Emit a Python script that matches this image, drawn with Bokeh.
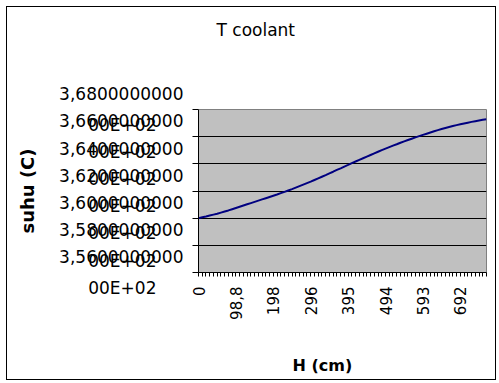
import math
from bokeh.plotting import figure
from bokeh.models import (Range1d, FixedTicker, CustomJSTickFormatter, Title, LinearAxis)
from bokeh.embed import file_html
from bokeh.resources import INLINE

# ---------------- data ----------------
H = [0, 9.88, 19.76, 29.64, 39.52, 49.4, 59.28, 69.16, 79.04, 88.92,
     98.8, 108.68, 118.56, 128.44, 138.32, 148.2, 158.08, 167.96, 177.84, 187.72,
     197.6, 207.48, 217.36, 227.24, 237.12, 247.0, 256.88, 266.76, 276.64, 286.52,
     296.4, 306.28, 316.16, 326.04, 335.92, 345.8, 355.68, 365.56, 375.44, 385.32,
     395.2, 405.08, 414.96, 424.84, 434.72, 444.6, 454.48, 464.36, 474.24, 484.12,
     494.0, 503.88, 513.76, 523.64, 533.52, 543.4, 553.28, 563.16, 573.04, 582.92,
     592.8, 602.68, 612.56, 622.44, 632.32, 642.2, 652.08, 661.96, 671.84, 681.72,
     691.6, 701.48, 711.36, 721.24, 731.12, 741.0, 750.88, 760.76]

T = [360.00, 360.06, 360.12, 360.19, 360.26, 360.33, 360.41, 360.49, 360.57, 360.66,
     360.75, 360.84, 360.93, 361.02, 361.11, 361.20, 361.29, 361.38, 361.47, 361.56,
     361.65, 361.74, 361.84, 361.94, 362.04, 362.14, 362.25, 362.36, 362.47, 362.58,
     362.69, 362.81, 362.93, 363.05, 363.17, 363.30, 363.42, 363.55, 363.67, 363.80,
     363.92, 364.05, 364.17, 364.29, 364.41, 364.53, 364.65, 364.77, 364.89, 365.01,
     365.12, 365.23, 365.34, 365.44, 365.55, 365.65, 365.75, 365.85, 365.95, 366.04,
     366.13, 366.22, 366.31, 366.40, 366.48, 366.56, 366.64, 366.71, 366.78, 366.85,
     366.91, 366.97, 367.03, 367.09, 367.14, 367.19, 367.24, 367.29]

x_label_ticks = [0, 98.8, 197.6, 296.4, 395.2, 494.0, 592.8, 691.6]
x_label_text = ["0", "98,8", "198", "296", "395", "494", "593", "692"]

y_ticks = [356, 358, 360, 362, 364, 366, 368]
y_line1 = ["3,5600000000", "3,5800000000", "3,6000000000", "3,6200000000",
           "3,6400000000", "3,6600000000", "3,6800000000"]
y_line2 = "00E+02"
y_grid = [358, 360, 362, 364, 366]

title_text = "T coolant"
x_title = "H (cm)"
y_title = "suhu (C)"

FONT = "DejaVu Sans"
PAD = "\u2007\u2007\u00a0"   # centres the second label line under the first


def spacer_axis(size):
    # an axis that draws nothing visible; it only reserves room in its panel
    ax = LinearAxis(ticker=FixedTicker(ticks=[H[0]], minor_ticks=[]),
                    formatter=CustomJSTickFormatter(code="return '';"))
    ax.axis_line_color = None
    ax.major_tick_line_color = "white"
    ax.minor_tick_line_color = None
    ax.major_label_text_color = None
    ax.major_tick_in = 0
    ax.major_tick_out = size
    ax.minor_tick_in = 0
    ax.minor_tick_out = 0
    ax.major_label_standoff = 0
    ax.axis_label_standoff = 0
    return ax


# ---------------- figure ----------------
p = figure(width=490, height=374, output_backend="svg", toolbar_location=None,
           x_range=Range1d(0, H[-1]), y_range=Range1d(y_ticks[0], y_ticks[-1]),
           styles={"margin-left": "6px", "margin-top": "6px",
                   "border": "1px solid black"})
p.title.visible = False

p.min_border_left = 191
p.min_border_right = 11
p.min_border_top = 102
p.min_border_bottom = 109
p.background_fill_color = "#C0C0C0"
p.border_fill_color = "white"
p.outline_line_color = "#808080"
p.outline_line_width = 1

p.line(H, T, line_color="#000080", line_width=2)

# x axis
xa = p.xaxis[0]
xa.ticker = FixedTicker(ticks=H, minor_ticks=[])
xa.formatter = CustomJSTickFormatter(args=dict(t=x_label_ticks, s=x_label_text),
    code="for (let i = 0; i < t.length; i++) { if (Math.abs(t[i] - tick) < 1e-6) return s[i]; } return '';")
xa.major_label_orientation = math.pi / 2
xa.major_tick_in = 0
xa.major_tick_out = 4
xa.minor_tick_out = 0
xa.minor_tick_in = 0
xa.major_label_standoff = 10
xa.major_label_text_font = FONT
xa.major_label_text_font_size = "15px"
xa.major_label_text_color = "black"
xa.axis_line_color = "black"
xa.major_tick_line_color = "black"

# y axis: Excel-style two-line labels
ya = p.yaxis[0]
ya.ticker = FixedTicker(ticks=y_ticks, minor_ticks=[])
ya.major_label_overrides = {v: s + "\n" + y_line2 + PAD for v, s in zip(y_ticks, y_line1)}
ya.major_label_text_line_height = 1.53
ya.major_label_text_font = FONT
ya.major_label_text_font_size = "17px"
ya.major_label_text_color = "black"
ya.major_label_standoff = 9
ya.major_tick_in = 0
ya.major_tick_out = 6
ya.minor_tick_in = 0
ya.minor_tick_out = 0
ya.axis_line_color = "black"
ya.major_tick_line_color = "black"
ya.axis_label = y_title
ya.axis_label_text_font = FONT
ya.axis_label_text_font_size = "18px"
ya.axis_label_text_font_style = "bold"
ya.axis_label_text_color = "black"
ya.axis_label_standoff = 18

p.xgrid.visible = False
p.ygrid.ticker = FixedTicker(ticks=y_grid, minor_ticks=[])
p.ygrid.grid_line_color = "black"
p.ygrid.grid_line_width = 1

# chart title, pushed up by an empty spacer
p.add_layout(spacer_axis(65), "above")
p.add_layout(Title(text=title_text, align="left", offset=18, standoff=10,
                   text_font=FONT, text_font_size="17px", text_font_style="normal",
                   text_color="black"), "above")

# x axis title, pushed down by an empty spacer
p.add_layout(spacer_axis(29), "below")
p.add_layout(Title(text=x_title, align="left", offset=94, standoff=4,
                   text_font=FONT, text_font_size="16px", text_font_style="bold",
                   text_color="black"), "below")

open("out.html", "w").write(file_html(p, INLINE))
